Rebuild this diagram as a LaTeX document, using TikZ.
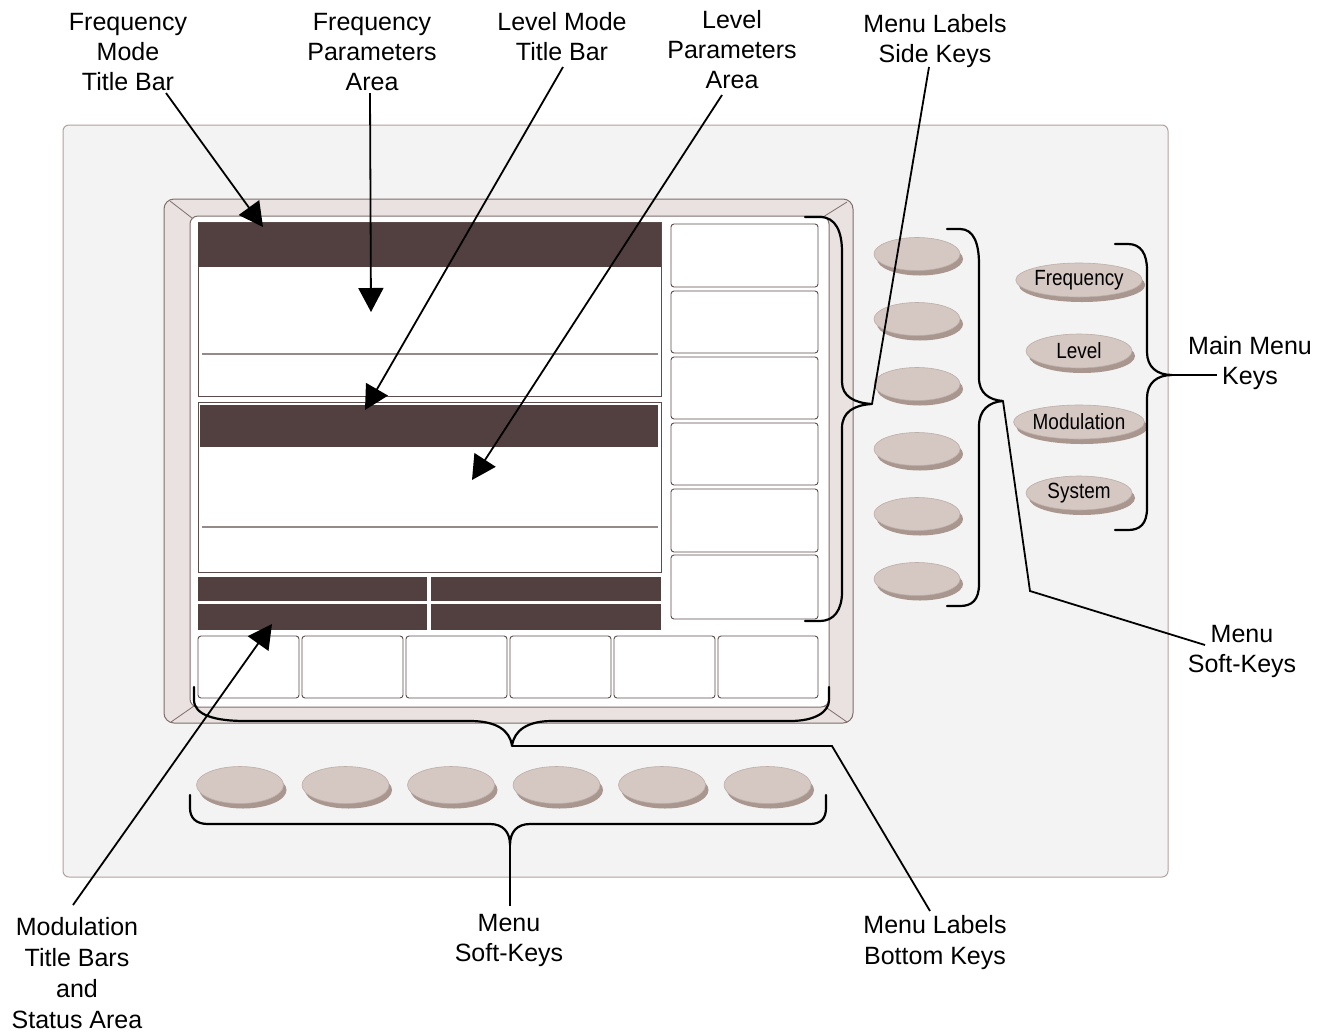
\documentclass[tikz,border=0pt]{standalone}
\usepackage{fontspec}
\setmainfont{Liberation Sans}
\usetikzlibrary{arrows.meta,shapes.geometric,shadows}
\definecolor{panelbg}{HTML}{F3F3F3}
\definecolor{panelline}{HTML}{B3A19C}
\definecolor{bezelfill}{HTML}{EAE2E0}
\definecolor{bezelline}{HTML}{7E6E6C}
\definecolor{barfill}{HTML}{523F3F}
\definecolor{boxline}{HTML}{5E4C4C}
\definecolor{thinline}{HTML}{948A8A}
\definecolor{keyfill}{HTML}{D5C8C3}
\definecolor{keyshadow}{HTML}{A8968F}
\definecolor{keyline}{HTML}{BCAEA9}
\newcommand{\keytext}[1]{\scalebox{0.86}[1]{#1}}
\begin{document}
\begin{tikzpicture}[x=1pt,y=-1pt,
  lbl/.style={align=center,font=\fontsize{25}{30}\selectfont,inner sep=0pt},
  lblb/.style={align=center,font=\fontsize{25}{31}\selectfont,inner sep=0pt},
  leader/.style={line width=1.8pt},
  arr/.style={leader,-{Triangle[length=24pt,width=25pt]}},
  bracepath/.style={line width=2.2pt,line join=round,line cap=round},
  barbox/.style={fill=barfill},
  secbox/.style={draw=boxline,fill=white,line width=0.9pt},
  thin/.style={draw=thinline,line width=1.2pt},
  labbox/.style={draw=boxline,fill=white,rounded corners=3pt,line width=0.9pt},
  key/.style={ellipse,fill=keyfill,draw=keyline,line width=0.6pt,inner sep=0pt,
     general shadow={fill=keyshadow,shadow xshift=3pt,shadow yshift=-5pt}},
  sidekey/.style={key,minimum width=86pt,minimum height=33pt},
  botkey/.style={key,minimum width=87pt,minimum height=37pt},
  mainkey/.style={key,minimum width=106pt,minimum height=34pt,font=\fontsize{22}{26}\selectfont}
]
\useasboundingbox (0,0) rectangle (1325,1034);
\fill[white] (0,0) rectangle (1325,1034);
% panel
\draw[panelline,fill=panelbg,rounded corners=6pt,line width=1pt] (63,125) rectangle (1168,877);
% bezel
\draw[bezelline,fill=bezelfill,rounded corners=10pt,line width=1pt] (164,199) rectangle (853,723);
\draw[bezelline,fill=white,rounded corners=8pt,line width=1pt] (190,216) rectangle (829,707);
\draw[bezelline,line width=0.8pt] (170,201) -- (192,218);
\draw[bezelline,line width=0.8pt] (847,202) -- (823,217);
\draw[bezelline,line width=0.8pt] (847,722) -- (824,706);
\draw[bezelline,line width=0.8pt] (171,722) -- (194,706);
% frequency section
\draw[secbox] (198,222) rectangle (661,396);
\fill[barfill] (198,223) rectangle (661,267);
\draw[thin] (202,354) -- (658,354);
% level section
\draw[secbox] (198,402) rectangle (661,572);
\fill[barfill] (200,405) rectangle (658,447);
\draw[thin] (202,527) -- (658,527);
% modulation bars
\fill[barfill] (198,577) rectangle (427,601);
\fill[barfill] (431,577) rectangle (661,601);
\fill[barfill] (198,604) rectangle (427,630);
\fill[barfill] (431,604) rectangle (661,630);
% bottom label boxes
\foreach \xa/\xb in {198/299,302/403,406/507,510/611,614/715,718/818}
  \draw[labbox] (\xa,636) rectangle (\xb,698);
% side label boxes
\foreach \ya/\yb in {224/287,291/353,357/419,423/485,489/552,555/619}
  \draw[labbox] (671,\ya) rectangle (818,\yb);
% side keys
\foreach \i/\y in {1/254,2/319,3/384,4/449,5/514,6/579}
  \node[sidekey] (sk\i) at (917,\y) {};
% bottom keys
\foreach \i/\x in {1/240,2/345.5,3/451,4/556.5,5/662,6/767.5}
  \node[botkey] (bk\i) at (\x,785) {};
% main menu keys
\node[mainkey] (kfreq) at (1079,280) {\keytext{Frequency}};
\node[mainkey] (klev)  at (1079,351) {\keytext{Level}};
\node[mainkey] (kmod)  at (1079,422) {\keytext{Modulation}};
\node[mainkey] (ksys)  at (1079,493) {\keytext{System}};

% braces
\coordinate (tipA) at (872,404);
\draw[bracepath] (805,217) -- (820,217) .. controls (836,217) and (842,232) .. (842,252) -- (842,382)
  .. controls (842,396) and (854,403) .. (tipA) .. controls (854,405) and (842,412) .. (842,428)
  -- (842,592) .. controls (842,610) and (834,621) .. (820,621) -- (805,621);
\coordinate (tipB) at (1003,401);
\draw[bracepath] (947,229) -- (960,229) .. controls (974,229) and (979,244) .. (979,264) -- (979,378)
  .. controls (979,393) and (989,400) .. (tipB) .. controls (989,402) and (979,410) .. (979,426)
  -- (979,584) .. controls (979,600) and (972,606) .. (960,606) -- (947,606);
\coordinate (tipC) at (1172,375);
\draw[bracepath] (1115,244) -- (1128,244) .. controls (1141,244) and (1147,254) .. (1147,270) -- (1147,352)
  .. controls (1147,367) and (1157,375) .. (tipC) .. controls (1157,375) and (1147,383) .. (1147,398)
  -- (1147,508) .. controls (1147,524) and (1140,530) .. (1128,530) -- (1115,530);
\coordinate (tipD) at (512,746);
\draw[bracepath] (194,687) -- (194,700) .. controls (194,715) and (215,721) .. (245,721) -- (470,721)
  .. controls (496,721) and (510,730) .. (tipD) .. controls (514,730) and (528,721) .. (552,721)
  -- (790,721) .. controls (815,721) and (829,712) .. (829,700) -- (829,687);
\coordinate (tipE) at (510,845);
\draw[bracepath] (190,795) -- (190,808) .. controls (190,818) and (196,824) .. (208,824) -- (490,824)
  .. controls (503,824) and (510,832) .. (tipE) .. controls (510,832) and (517,824) .. (530,824)
  -- (810,824) .. controls (821,824) and (826,818) .. (826,808) -- (826,795);

% labels
\node[lbl] (tFreqMode) at (128,52) {Frequency\\Mode\\Title Bar};
\node[lbl] (tFreqPar) at (372,52) {Frequency\\Parameters\\Area};
\node[lbl] (tLevMode) at (562,37) {Level Mode\\Title Bar};
\node[lbl] (tLevPar) at (732,50) {Level\\Parameters\\Area};
\node[lbl] (tSide) at (935,41) {Menu Labels\\Side Keys};
\node[lbl] (tMain) at (1250,363) {Main Menu\\Keys};
\node[lbl] (tSoftR) at (1242,651) {Menu\\Soft-Keys};
\node[lblb] (tMod) at (77,973) {Modulation\\Title Bars\\and\\Status Area};
\node[lbl] (tSoftB) at (509,940) {Menu\\Soft-Keys};
\node[lblb] (tBot) at (935,943) {Menu Labels\\Bottom Keys};

% leader coordinates
\coordinate (sFM) at (166,93);
\coordinate (sFP) at (370,93);
\coordinate (sLM) at (563,67);
\coordinate (sLP) at (722,95);
\coordinate (sMLS) at (929,67);
\coordinate (sMod) at (73,905);
\coordinate (tipFM) at (263,227);
\coordinate (tipFP) at (371,312);
\coordinate (tipLM) at (365,410);
\coordinate (tipLP) at (472,480);
\coordinate (tipMod) at (272,624);
\coordinate (bendR) at (1030,591);
\coordinate (endR) at (1205,645);
\coordinate (bendB) at (832,746);
\coordinate (endB) at (930,911);
\coordinate (endE) at (510,906);

\draw[arr] (sFM) -- (tipFM);
\draw[arr] (sFP) -- (tipFP);
\draw[arr] (sLM) -- (tipLM);
\draw[arr] (sLP) -- (tipLP);
\draw[arr] (sMod) -- (tipMod);
\draw[leader] (sMLS) -- (tipA);
\draw[leader] (tipB) -- (bendR) -- (endR);
\draw[leader] (tipC) -- (1217,375);
\draw[leader] (tipD) -- (bendB) -- (endB);
\draw[leader] (tipE) -- (endE);
\end{tikzpicture}
\end{document}
